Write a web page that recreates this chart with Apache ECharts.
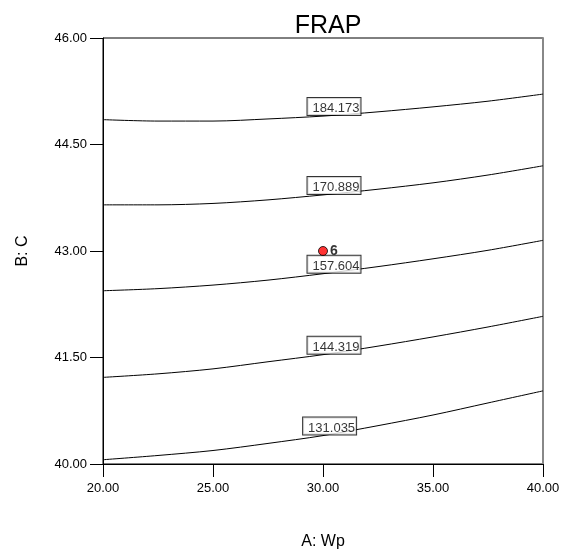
<!DOCTYPE html>
<html>
<head>
<meta charset="utf-8">
<script src="https://cdn.jsdelivr.net/npm/echarts@6/dist/echarts.min.js"></script>
<style>
html, body { margin: 0; padding: 0; background: #fff; }
#chart { width: 566px; height: 555px; }
</style>
</head>
<body>
<div id="chart"></div>
<script>
// contour lines of FRAP, B: C read at these A: Wp values
var xValues = [20, 22.5, 25, 27.5, 30, 32.5, 35, 37.5, 40];
var levels = ['184.173', '170.889', '157.604', '144.319', '131.035'];
var c184 = [44.85, 44.83, 44.83, 44.86, 44.90, 44.96, 45.03, 45.11, 45.21];
var c171 = [43.65, 43.65, 43.67, 43.72, 43.79, 43.87, 43.96, 44.07, 44.20];
var c158 = [42.44, 42.47, 42.52, 42.59, 42.68, 42.78, 42.89, 43.01, 43.15];
var c144 = [41.22, 41.27, 41.34, 41.44, 41.54, 41.66, 41.79, 41.93, 42.08];
var c131 = [40.06, 40.12, 40.19, 40.29, 40.40, 40.54, 40.69, 40.86, 41.03];
var designPoint = [30, 43];
var designCount = '6';

var contours = [c184, c171, c158, c144, c131];
var font = 'Liberation Sans, Arial, sans-serif';

var chart = echarts.init(document.getElementById('chart'));

var series = contours.map(function (ys) {
    return {
        type: 'line',
        smooth: 0.3,
        symbol: 'none',
        silent: true,
        lineStyle: { color: '#000', width: 1 },
        data: xValues.map(function (x, i) { return [x, ys[i]]; }),
        z: 2
    };
});

// boxed level labels sitting on the lines
series.push({
    type: 'scatter',
    symbolSize: 0,
    silent: true,
    z: 5,
    data: contours.map(function (ys, i) {
        return { value: [i === 4 ? 30.3 : 30.5, ys[4]], label: { formatter: levels[i] } };
    }),
    label: {
        show: true,
        position: 'top',
        distance: 1,
        color: '#000',
        fontFamily: font,
        fontSize: 13,
        lineHeight: 13,
        backgroundColor: '#fff',
        borderColor: '#000',
        borderWidth: 1,
        padding: [4, 1, 0, 5]
    }
});

// design point
series.push({
    type: 'scatter',
    symbolSize: 9,
    silent: true,
    z: 6,
    itemStyle: { color: '#ff0000', borderColor: '#000', borderWidth: 1 },
    data: [designPoint],
    label: {
        show: true,
        position: 'right',
        distance: 2,
        formatter: designCount,
        color: '#000',
        fontWeight: 'bold',
        fontFamily: font,
        fontSize: 14
    }
});

var option = {
    animation: false,
    title: {
        text: 'FRAP',
        left: 323,
        textAlign: 'center',
        top: 9,
        textStyle: { fontFamily: font, fontSize: 25, fontWeight: 'normal', color: '#000' }
    },
    grid: {
        left: 103, right: 23, top: 38, bottom: 88,
        show: true, borderColor: '#000', borderWidth: 1
    },
    xAxis: {
        type: 'value',
        min: 20, max: 40, interval: 5,
        name: 'A: Wp',
        nameLocation: 'middle',
        nameGap: 70,
        nameTextStyle: { fontFamily: font, fontSize: 16, color: '#000' },
        axisLine: { lineStyle: { color: '#000', width: 1 } },
        axisTick: { show: true, length: 13, lineStyle: { color: '#000' } },
        axisLabel: {
            margin: 18,
            fontFamily: font, fontSize: 13, color: '#000',
            formatter: function (v) { return v.toFixed(2); }
        },
        splitLine: { show: false }
    },
    yAxis: [{
        type: 'value',
        min: 40, max: 46, interval: 1.5,
        name: 'B: C',
        nameLocation: 'middle',
        nameGap: 72,
        nameRotate: 90,
        nameTextStyle: { fontFamily: font, fontSize: 16, color: '#000' },
        axisLine: { show: true, lineStyle: { color: '#000', width: 1 } },
        axisTick: { show: true, length: 13, lineStyle: { color: '#000' } },
        axisLabel: {
            margin: 16,
            fontFamily: font, fontSize: 13, color: '#000',
            formatter: function (v) { return v.toFixed(2); }
        },
        splitLine: { show: false }
    }, {
        type: 'value',
        min: 40, max: 46,
        position: 'right',
        axisLine: { show: true, lineStyle: { color: '#888', width: 2 } },
        axisTick: { show: false },
        axisLabel: { show: false },
        splitLine: { show: false }
    }],
    series: series
};

chart.setOption(option);
</script>
</body>
</html>
